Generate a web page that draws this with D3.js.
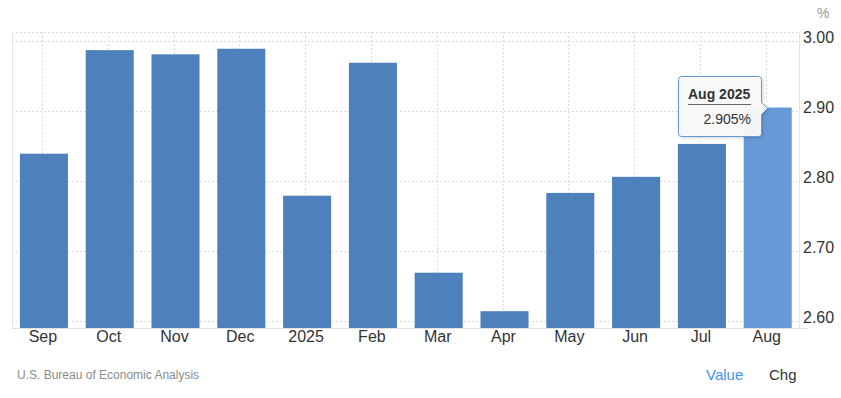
<!DOCTYPE html>
<html>
<head>
<meta charset="utf-8">
<script src="https://cdn.jsdelivr.net/npm/d3@7"></script>
<style>
  body { margin: 0; background: #fff; }
  svg { display: block; font-family: "Liberation Sans", Arial, sans-serif; }
</style>
</head>
<body>
<div id="chart"></div>
<script>
var months = ["Sep", "Oct", "Nov", "Dec", "2025", "Feb", "Mar", "Apr", "May", "Jun", "Jul", "Aug"];
var rates = [2.839, 2.987, 2.981, 2.989, 2.779, 2.969, 2.669, 2.614, 2.783, 2.806, 2.853, 2.905];
var yTicks = [2.60, 2.70, 2.80, 2.90, 3.00];

var width = 841, height = 398;
var plotLeft = 12, plotRight = 799, plotTop = 32, plotBottom = 328;

var svg = d3.select("#chart").append("svg")
    .attr("width", width)
    .attr("height", height);

var x = d3.scaleBand()
    .domain(months)
    .range([11, 800.6])
    .paddingInner(0.27)
    .paddingOuter(0.135);

var y = d3.scaleLinear()
    .domain([2.59, 3.0129])
    .range([plotBottom, plotTop]);

// grid
var grid = svg.append("g").attr("class", "grid");
grid.selectAll(".hgrid")
    .data(yTicks.concat([y.invert(plotTop)]))
    .enter().append("line")
    .attr("x1", plotLeft).attr("x2", plotRight)
    .attr("y1", function (d) { return Math.round(y(d)) + 0.5; })
    .attr("y2", function (d) { return Math.round(y(d)) + 0.5; })
    .attr("stroke", "#dcdcdc")
    .attr("stroke-dasharray", "2,2");
grid.selectAll(".vgrid")
    .data(months)
    .enter().append("line")
    .attr("x1", function (d) { return Math.round(x(d) + x.bandwidth() / 2) - 1.5; })
    .attr("x2", function (d) { return Math.round(x(d) + x.bandwidth() / 2) - 1.5; })
    .attr("y1", plotTop).attr("y2", plotBottom)
    .attr("stroke", "#dcdcdc")
    .attr("stroke-dasharray", "2,2");

// frame lines
svg.append("line")
    .attr("x1", plotLeft + 0.5).attr("x2", plotLeft + 0.5)
    .attr("y1", plotTop).attr("y2", plotBottom)
    .attr("stroke", "#e6e6e6");
svg.append("line")
    .attr("x1", plotRight + 0.5).attr("x2", plotRight + 0.5)
    .attr("y1", plotTop).attr("y2", plotBottom)
    .attr("stroke", "#e6e6e6");

// bars
svg.selectAll(".bar")
    .data(rates)
    .enter().append("rect")
    .attr("class", "bar")
    .attr("x", function (d, i) { return x(months[i]); })
    .attr("width", x.bandwidth())
    .attr("y", function (d) { return y(d); })
    .attr("height", function (d) { return plotBottom - y(d); })
    .attr("fill", function (d, i) { return i === months.length - 1 ? "#6699d5" : "#4e80bb"; });

// bottom axis line
svg.append("line")
    .attr("x1", plotLeft).attr("x2", 808)
    .attr("y1", plotBottom + 0.5).attr("y2", plotBottom + 0.5)
    .attr("stroke", "#e0e0e0");

// x labels
svg.selectAll(".xlab")
    .data(months)
    .enter().append("text")
    .attr("x", function (d) { return x(d) + x.bandwidth() / 2 - 1; })
    .attr("y", 342)
    .attr("text-anchor", "middle")
    .attr("font-size", 16)
    .attr("fill", "#333")
    .text(function (d) { return d; });

// y labels
svg.selectAll(".ylab")
    .data(yTicks)
    .enter().append("text")
    .attr("x", 803)
    .attr("y", function (d) { return y(d) + 2; })
    .attr("font-size", 16)
    .attr("fill", "#333")
    .text(function (d) { return d.toFixed(2); });

svg.append("text")
    .attr("x", 817).attr("y", 18)
    .attr("font-size", 14)
    .attr("fill", "#999")
    .text("%");

// footer
svg.append("text")
    .attr("x", 17).attr("y", 379)
    .attr("font-size", 12)
    .attr("fill", "#8c8c8c")
    .text("U.S. Bureau of Economic Analysis");
svg.append("text")
    .attr("x", 706).attr("y", 380)
    .attr("font-size", 15)
    .attr("fill", "#3d95f0")
    .text("Value");
svg.append("text")
    .attr("x", 769).attr("y", 380)
    .attr("font-size", 15)
    .attr("fill", "#333")
    .text("Chg");

// tooltip
var last = rates.length - 1;
var ty = Math.round(y(rates[last])) + 0.5;
var defs = svg.append("defs");
var f = defs.append("filter").attr("id", "shadow")
    .attr("x", "-20%").attr("y", "-20%").attr("width", "150%").attr("height", "150%");
f.append("feDropShadow").attr("dx", 1).attr("dy", 1).attr("stdDeviation", 1.5)
    .attr("flood-color", "#000").attr("flood-opacity", 0.18);

var tip = svg.append("g").attr("class", "tooltip");
var bx = 678.5, by = 76.5, bw = 83, bh = 60;
var tipPath = "M" + (bx + 3) + "," + by +
    " H" + (bx + bw - 3) + " Q" + (bx + bw) + "," + by + " " + (bx + bw) + "," + (by + 3) +
    " V" + (ty - 6) + " L" + (bx + bw + 6) + "," + ty + " L" + (bx + bw) + "," + (ty + 6) +
    " V" + (by + bh - 3) + " Q" + (bx + bw) + "," + (by + bh) + " " + (bx + bw - 3) + "," + (by + bh) +
    " H" + (bx + 3) + " Q" + bx + "," + (by + bh) + " " + bx + "," + (by + bh - 3) +
    " V" + (by + 3) + " Q" + bx + "," + by + " " + (bx + 3) + "," + by + " Z";
tip.append("path")
    .attr("d", tipPath)
    .attr("fill", "#f9f9f9")
    .attr("fill-opacity", 0.95)
    .attr("stroke", "#6699d5")
    .attr("stroke-width", 1)
    .attr("filter", "url(#shadow)");
tip.append("text")
    .attr("x", 688).attr("y", 99)
    .attr("font-size", 14)
    .attr("font-weight", "bold")
    .attr("fill", "#333")
    .text("Aug 2025");
tip.append("line")
    .attr("x1", 688).attr("x2", 751)
    .attr("y1", 104.5).attr("y2", 104.5)
    .attr("stroke", "#666");
tip.append("text")
    .attr("x", 751).attr("y", 124)
    .attr("text-anchor", "end")
    .attr("font-size", 14)
    .attr("fill", "#333")
    .text(rates[last].toFixed(3) + "%");
</script>
</body>
</html>
